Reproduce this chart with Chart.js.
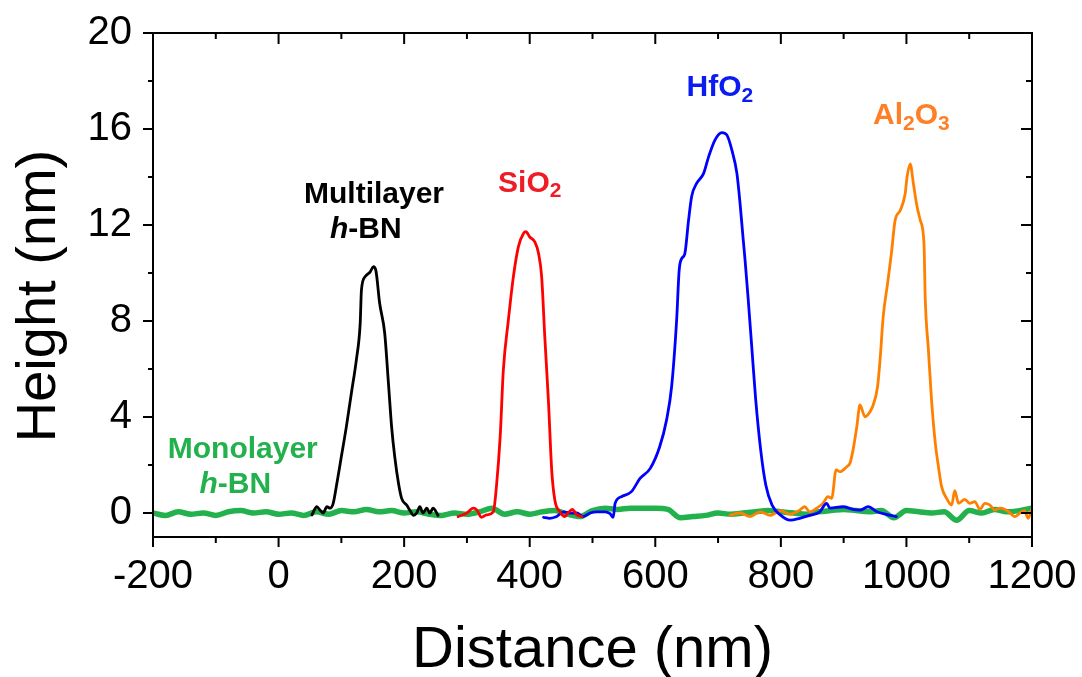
<!DOCTYPE html>
<html>
<head>
<meta charset="utf-8">
<script src="https://cdn.jsdelivr.net/npm/chart.js@4"></script>
<style>
  html, body { margin: 0; padding: 0; background: #fff; }
  #wrap { width: 1082px; height: 677px; }
</style>
</head>
<body>
<div id="wrap"><canvas id="afm" width="1082" height="677"></canvas></div>
<script>
const xTicks = [-200, 0, 200, 400, 600, 800, 1000, 1200];
const yTicks = [0, 4, 8, 12, 16, 20];

// monolayer h-BN (green, thick baseline across the whole range)
const monoX = [-200, -180, -160, -140, -120, -100, -80, -60, -40, -20,
  0, 20, 40, 60, 80, 100, 120, 140, 160, 180,
  200, 220, 240, 260, 280, 300, 320, 340, 360, 380,
  400, 420, 440, 460, 480, 500, 520, 540, 560, 580,
  600, 620, 640, 660, 680, 700, 720, 740, 760, 780,
  800, 820, 840, 860, 880, 900, 920, 940, 960, 980,
  1000, 1020, 1040, 1060, 1080, 1100, 1120, 1140, 1160, 1180, 1200];
const monoY = [0.0, -0.1, 0.05, -0.05, 0.0, -0.1, 0.05, 0.1, 0.0, 0.05,
  -0.05, 0.0, -0.1, 0.05, -0.05, 0.1, 0.05, 0.15, 0.05, 0.1,
  0.0, 0.05, -0.05, -0.1, 0.0, -0.05, 0.05, 0.2, -0.05, 0.05,
  -0.05, 0.05, 0.1, -0.05, -0.15, 0.1, 0.2, 0.15, 0.2, 0.2,
  0.2, 0.15, -0.2, -0.15, -0.1, 0.0, -0.05, 0.0, 0.05, 0.1,
  0.05, 0.0, -0.05, 0.05, 0.1, 0.15, 0.1, 0.05, 0.1, -0.2,
  0.1, 0.05, 0.0, 0.05, -0.3, 0.1, 0.0, 0.15, 0.05, 0.1, 0.2];

// multilayer h-BN (black)
const multiX = [53, 61, 66, 71, 77, 82, 87, 92, 100, 108, 116, 124, 130, 132, 138, 146,
  151, 155, 161, 169, 175, 180, 185, 191, 196, 204, 209, 215, 220, 225, 230, 236, 241, 246, 254];
const multiY = [-0.08, 0.26, 0.12, 0.0, 0.26, 0.2, 0.4, 1.1, 2.35, 3.6, 5.0, 6.4, 7.9, 9.3, 9.85, 10.05,
  10.26, 10.1, 8.74, 7.5, 5.4, 3.6, 2.35, 1.24, 0.61, 0.33, 0.12, -0.1, 0.0, 0.26, 0.0, 0.2, 0.0, 0.2, -0.1];

// SiO2 (red)
const sioX = [286, 300, 310, 316, 323, 331, 342, 347, 353, 358, 366, 374, 382, 390, 394, 400,
  408, 414, 419, 424, 430, 435, 440, 448, 456, 461, 468, 475, 483];
const sioY = [-0.15, 0.0, 0.2, 0.12, -0.18, -0.08, 0.05, 1.1, 3.2, 5.96, 8.04, 9.85, 11.1, 11.65, 11.72, 11.5,
  11.3, 10.82, 9.85, 7.35, 4.57, 1.8, 0.54, 0.05, -0.15, 0.0, 0.15, -0.08, -0.15];

// HfO2 (blue)
const hfoX = [422, 432, 443, 454, 464, 475, 485, 496, 507, 520, 528, 533, 536, 546, 562, 576,
  592, 607, 618, 626, 634, 638, 642, 647, 653, 658, 666, 677, 685, 695, 706, 714,
  722, 730, 735, 740, 743, 748, 754, 760, 768, 776, 786, 799, 815, 830, 846, 862,
  873, 878, 899, 915, 926, 939, 953, 968, 984];
const hfoY = [-0.18, -0.22, -0.15, 0.05, 0.0, 0.0, -0.15, 0.0, 0.05, 0.05, -0.03, -0.18, 0.4, 0.68, 0.89, 1.45,
  1.86, 2.76, 3.88, 5.26, 8.04, 10.1, 10.6, 10.8, 12.2, 13.2, 13.74, 14.15, 14.85, 15.54, 15.85, 15.75,
  15.12, 14.15, 12.9, 11.4, 10.54, 8.9, 6.8, 4.7, 2.6, 1.17, 0.33, -0.08, -0.3, -0.22, -0.1, 0.05,
  0.4, 0.2, 0.26, 0.15, 0.12, 0.26, 0.05, -0.06, -0.15];

// Al2O3 (orange)
const aloX = [719, 735, 751, 767, 783, 799, 815, 830, 838, 846, 857, 867, 875, 881, 888, 894,
  905, 910, 915, 921, 926, 934, 942, 947, 954, 958, 963, 970, 976, 982, 990, 998,
  1001, 1006, 1011, 1016, 1022, 1028, 1030, 1035, 1040, 1046, 1051, 1056, 1064, 1072, 1077, 1083,
  1093, 1101, 1109, 1117, 1125, 1133, 1141, 1149, 1157, 1165, 1173, 1181, 1188, 1194, 1200];
const aloY = [-0.1, 0.0, -0.15, 0.05, -0.1, 0.1, -0.05, 0.12, 0.26, 0.05, 0.2, 0.4, 0.68, 0.61, 1.8, 1.72,
  1.93, 2.07, 2.63, 3.6, 4.5, 4.01, 4.22, 4.5, 5.26, 6.38, 8.18, 9.57, 10.8, 12.2, 12.6, 13.3,
  14.0, 14.55, 13.74, 12.9, 12.2, 11.2, 8.9, 6.8, 4.7, 2.9, 1.93, 1.1, 0.61, 0.33, 0.93, 0.4,
  0.57, 0.4, 0.47, 0.15, 0.4, 0.33, 0.12, 0.2, 0.15, 0.0, -0.15, 0.0, 0.1, -0.22, 0.2];

const FONT = 'Arial, "Liberation Sans", sans-serif';
const pts = (xs, ys) => xs.map((x, i) => ({ x, y: ys[i] }));

function line(data, color, width) {
    return { data, borderColor: color, backgroundColor: color, borderWidth: width,
        pointRadius: 0, showLine: true, cubicInterpolationMode: 'monotone',
        borderJoinStyle: 'round', borderCapStyle: 'round', fill: false };
}

// text pieces: [text, 'n' normal | 'i' italic | 's' subscript]
function drawLabel(ctx, parts, cx, cy, color, size) {
    const fontOf = k => (k === 'i' ? 'italic bold ' : 'bold ') + (k === 's' ? size * 0.7 : size) + 'px ' + FONT;
    let w = 0;
    parts.forEach(([t, k]) => { ctx.font = fontOf(k); w += ctx.measureText(t).width; });
    let px = cx - w / 2;
    const base = cy + size * 0.358;
    ctx.fillStyle = color;
    ctx.textAlign = 'left';
    ctx.textBaseline = 'alphabetic';
    parts.forEach(([t, k]) => {
        ctx.font = fontOf(k);
        ctx.fillText(t, px, k === 's' ? base + size * 0.18 : base);
        px += ctx.measureText(t).width;
    });
}

const frame = {
    id: 'frame',
    afterDraw(chart) {
        const { ctx, chartArea: a, scales: { x, y } } = chart;
        ctx.save();
        ctx.strokeStyle = '#000';
        ctx.lineWidth = 2;
        ctx.strokeRect(a.left, a.top, a.right - a.left, a.bottom - a.top);
        ctx.beginPath();
        xTicks.forEach((v, i) => {
            const p = x.getPixelForValue(v);
            ctx.moveTo(p, a.bottom); ctx.lineTo(p, a.bottom + 10);
            ctx.moveTo(p, a.top); ctx.lineTo(p, a.top + 11);
            if (i < xTicks.length - 1) {
                const m = x.getPixelForValue((v + xTicks[i + 1]) / 2);
                ctx.moveTo(m, a.bottom); ctx.lineTo(m, a.bottom + 6);
                ctx.moveTo(m, a.top); ctx.lineTo(m, a.top + 6);
            }
        });
        yTicks.forEach((v, i) => {
            const p = y.getPixelForValue(v);
            ctx.moveTo(a.left, p); ctx.lineTo(a.left - 10, p);
            ctx.moveTo(a.right, p); ctx.lineTo(a.right - 11, p);
            if (i < yTicks.length - 1) {
                const m = y.getPixelForValue((v + yTicks[i + 1]) / 2);
                ctx.moveTo(a.left, m); ctx.lineTo(a.left - 5, m);
                ctx.moveTo(a.right, m); ctx.lineTo(a.right - 6, m);
            }
        });
        ctx.stroke();

        // axis titles
        ctx.fillStyle = '#000';
        ctx.textAlign = 'center';
        ctx.textBaseline = 'alphabetic';
        ctx.font = '58px ' + FONT;
        ctx.fillText('Distance (nm)', (a.left + a.right) / 2, 667);
        ctx.save();
        ctx.translate(55, 296);
        ctx.rotate(-Math.PI / 2);
        ctx.font = '56px ' + FONT;
        ctx.fillText('Height (nm)', 0, 0);
        ctx.restore();

        // curve labels
        const X = v => x.getPixelForValue(v), Y = v => y.getPixelForValue(v);
        drawLabel(ctx, [['Multilayer', 'n']], X(152), Y(13.35), '#000000', 30);
        drawLabel(ctx, [['h', 'i'], ['-BN', 'n']], X(139), Y(11.92), '#000000', 30);
        drawLabel(ctx, [['Monolayer', 'n']], X(-57), Y(2.75), '#22B14C', 30);
        drawLabel(ctx, [['h', 'i'], ['-BN', 'n']], X(-69), Y(1.29), '#22B14C', 30);
        drawLabel(ctx, [['SiO', 'n'], ['2', 's']], X(400), Y(13.83), '#EE1C25', 30);
        drawLabel(ctx, [['HfO', 'n'], ['2', 's']], X(703), Y(17.81), '#0B1CF0', 30);
        drawLabel(ctx, [['Al', 'n'], ['2', 's'], ['O', 'n'], ['3', 's']], X(1008), Y(16.65), '#FF7F27', 30);
        ctx.restore();
    }
};

new Chart(document.getElementById('afm'), {
    type: 'scatter',
    data: {
        datasets: [
            line(pts(multiX, multiY), '#000000', 2.8),
            line(pts(sioX, sioY), '#FF0000', 2.8),
            line(pts(hfoX, hfoY), '#0000FF', 2.8),
            line(pts(aloX, aloY), '#FF8000', 2.8),
            line(pts(monoX, monoY), '#22B14C', 5.5)
        ]
    },
    options: {
        responsive: false, animation: false,
        layout: { padding: { left: 0, top: 33, right: 50, bottom: 0 } },
        plugins: { legend: { display: false }, tooltip: { enabled: false } },
        scales: {
            x: {
                type: 'linear', min: -200, max: 1200,
                afterBuildTicks: s => { s.ticks = xTicks.map(v => ({ value: v })); },
                afterFit: s => { s.height = 140; s.paddingLeft = 0; s.paddingRight = 0; },
                grid: { display: false, drawTicks: false }, border: { display: false },
                ticks: { color: '#000', font: { family: FONT, size: 40 }, padding: 16, maxRotation: 0, autoSkip: false,
                    callback: v => String(v) }
            },
            y: {
                type: 'linear', min: -1, max: 20,
                afterBuildTicks: s => { s.ticks = yTicks.map(v => ({ value: v })); },
                afterFit: s => { s.width = 153; s.paddingTop = 0; s.paddingBottom = 0; },
                grid: { display: false, drawTicks: false }, border: { display: false },
                ticks: { color: '#000', font: { family: FONT, size: 40 }, padding: 21, autoSkip: false,
                    callback: v => String(v) }
            }
        }
    },
    plugins: [frame]
});
</script>
</body>
</html>
